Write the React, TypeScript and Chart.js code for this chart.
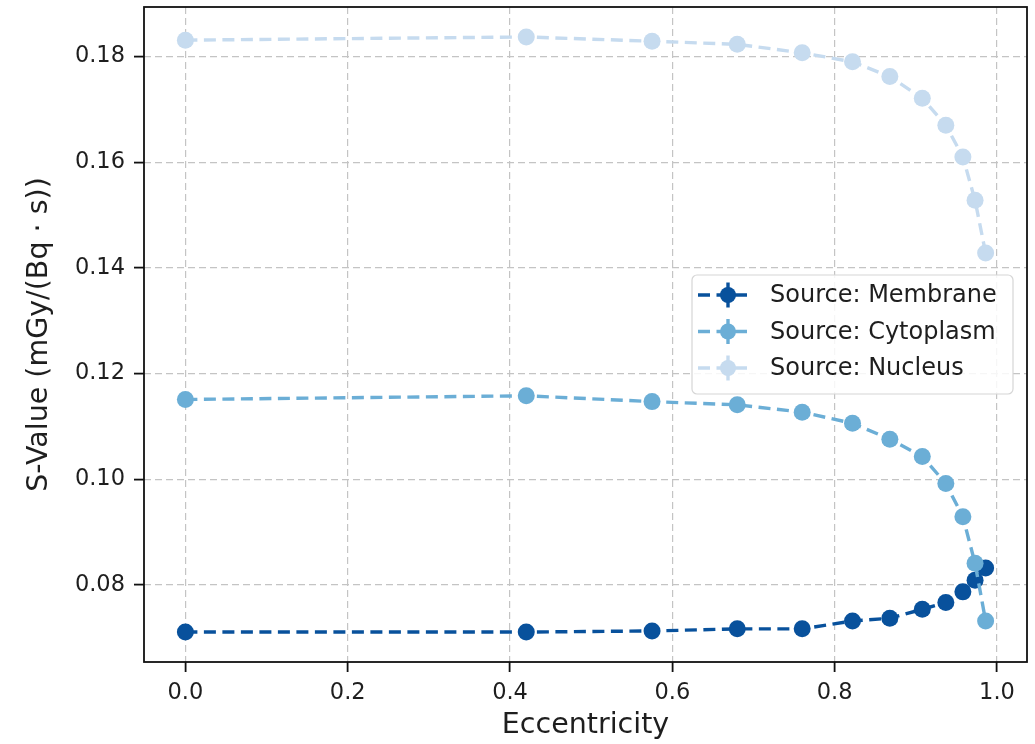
import React, { useEffect, useRef } from "react";
import { Chart, registerables } from "chart.js";

Chart.register(...registerables);

const eccentricity = [0, 0.42, 0.575, 0.68, 0.76, 0.822, 0.868, 0.908, 0.937, 0.958, 0.973, 0.986];
const membrane = [0.0711, 0.0711, 0.0713, 0.0717, 0.0717, 0.0732, 0.0737, 0.0754, 0.0767, 0.0787, 0.0809, 0.0832];
const cytoplasm = [0.1151, 0.1158, 0.1147, 0.1141, 0.1127, 0.1106, 0.1076, 0.1043, 0.0992, 0.0929, 0.0841, 0.0732];
const nucleus = [0.1831, 0.1837, 0.1829, 0.1823, 0.1807, 0.179, 0.1762, 0.1721, 0.167, 0.161, 0.1528, 0.1428];

const seriesLabels = ["Source: Membrane", "Source: Cytoplasm", "Source: Nucleus"];
const seriesColors = ["#08519c", "#6baed6", "#c6dbef"];
const xTicks = [0, 0.2, 0.4, 0.6, 0.8, 1.0];
const yTicks = [0.08, 0.1, 0.12, 0.14, 0.16, 0.18];

const FONT = "'DejaVu Sans', sans-serif";
const TEXT = "#1e1e1e";

const framePlugin = {
  id: "frame",
  afterDraw(chart: any) {
    const { ctx, chartArea } = chart;
    ctx.save();
    ctx.strokeStyle = "#111";
    ctx.lineWidth = 1.8;
    ctx.strokeRect(chartArea.left, chartArea.top, chartArea.right - chartArea.left, chartArea.bottom - chartArea.top);
    ctx.restore();
  },
};

const legendPlugin = {
  id: "mplLegend",
  afterDraw(chart: any) {
    const { ctx, chartArea } = chart;
    const bx = chartArea.right - 335;
    const by = chartArea.top + 268;
    const bw = 321;
    const bh = 119;
    ctx.save();
    ctx.beginPath();
    if (ctx.roundRect) ctx.roundRect(bx, by, bw, bh, 5);
    else ctx.rect(bx, by, bw, bh);
    ctx.fillStyle = "rgba(255,255,255,0.85)";
    ctx.fill();
    ctx.strokeStyle = "#d6d6d6";
    ctx.lineWidth = 1.2;
    ctx.stroke();
    chart.data.datasets.forEach((ds: any, i: number) => {
      const cy = by + 20 + i * 36.5;
      const x0 = bx + 6;
      const x1 = bx + 58;
      const cx = (x0 + x1) / 2 + 4;
      ctx.strokeStyle = ds.borderColor;
      ctx.lineWidth = 3.4;
      ctx.setLineDash([12, 6.5]);
      ctx.beginPath();
      ctx.moveTo(x0, cy);
      ctx.lineTo(x1, cy);
      ctx.stroke();
      ctx.setLineDash([]);
      ctx.beginPath();
      ctx.moveTo(cx, cy - 12.5);
      ctx.lineTo(cx, cy + 12.5);
      ctx.stroke();
      ctx.fillStyle = ds.backgroundColor;
      ctx.beginPath();
      ctx.arc(cx, cy, 8, 0, Math.PI * 2);
      ctx.fill();
      ctx.fillStyle = TEXT;
      ctx.font = `24px ${FONT}`;
      ctx.textBaseline = "middle";
      ctx.textAlign = "left";
      ctx.fillText(ds.label, bx + 78, cy + 1);
    });
    ctx.restore();
  },
};

export default function App() {
  const ref = useRef<HTMLCanvasElement | null>(null);
  useEffect(() => {
    if (!ref.current) return;
    const series = [membrane, cytoplasm, nucleus];
    const chart = new Chart(ref.current, {
      type: "line",
      data: {
        datasets: series.map((vals, i) => ({
          label: seriesLabels[i],
          data: eccentricity.map((x, j) => ({ x, y: vals[j] })),
          borderColor: seriesColors[i],
          backgroundColor: seriesColors[i],
          pointBackgroundColor: seriesColors[i],
          pointBorderWidth: 0,
          pointRadius: 8.5,
          pointHoverRadius: 8.5,
          borderWidth: 3.4,
          borderDash: [12, 6.5],
          fill: false,
          tension: 0,
          order: 2 - i,
        })),
      },
      options: {
        animation: false,
        responsive: false,
        devicePixelRatio: 1,
        layout: { autoPadding: false, padding: { top: 7, right: 8, left: 0, bottom: 0 } },
        plugins: { legend: { display: false }, tooltip: { enabled: false } },
        scales: {
          x: {
            type: "linear",
            min: -0.051,
            max: 1.037,
            afterBuildTicks: (s: any) => {
              s.ticks = xTicks.map((v) => ({ value: v }));
            },
            afterFit: (s: any) => {
              s.height = 82;
              s.paddingLeft = 0;
              s.paddingRight = 0;
            },
            ticks: {
              color: TEXT,
              font: { family: FONT, size: 22.5 },
              padding: 8,
              maxRotation: 0,
              callback: (v: any) => Number(v).toFixed(1),
            },
            grid: {
              color: "#c4c4c4",
              lineWidth: 1.2,
              drawTicks: true,
              tickLength: 10,
              tickColor: "#111",
              tickWidth: 1.8,
            },
            border: { display: false, dash: [7, 4] },
            title: {
              display: true,
              text: "Eccentricity",
              color: TEXT,
              font: { family: FONT, size: 28.5 },
              padding: { top: 0, bottom: 1 },
            },
          },
          y: {
            type: "linear",
            min: 0.06543,
            max: 0.18937,
            afterBuildTicks: (s: any) => {
              s.ticks = yTicks.map((v) => ({ value: v }));
            },
            afterFit: (s: any) => {
              s.width = 144;
              s.paddingTop = 0;
              s.paddingBottom = 0;
            },
            ticks: {
              color: TEXT,
              font: { family: FONT, size: 22.5 },
              padding: 9,
              callback: (v: any) => Number(v).toFixed(2),
            },
            grid: {
              color: "#c4c4c4",
              lineWidth: 1.2,
              drawTicks: true,
              tickLength: 10,
              tickColor: "#111",
              tickWidth: 1.8,
            },
            border: { display: false, dash: [7, 4] },
            title: {
              display: true,
              text: "S-Value (mGy/(Bq · s))",
              color: TEXT,
              font: { family: FONT, size: 28.5 },
              padding: { top: 22, bottom: 0 },
            },
          },
        },
      },
      plugins: [framePlugin, legendPlugin],
    });
    return () => chart.destroy();
  }, []);
  return (
    <canvas
      ref={ref}
      width={1035}
      height={744}
      style={{ position: "absolute", left: 0, top: 0, width: 1035, height: 744 }}
    />
  );
}
